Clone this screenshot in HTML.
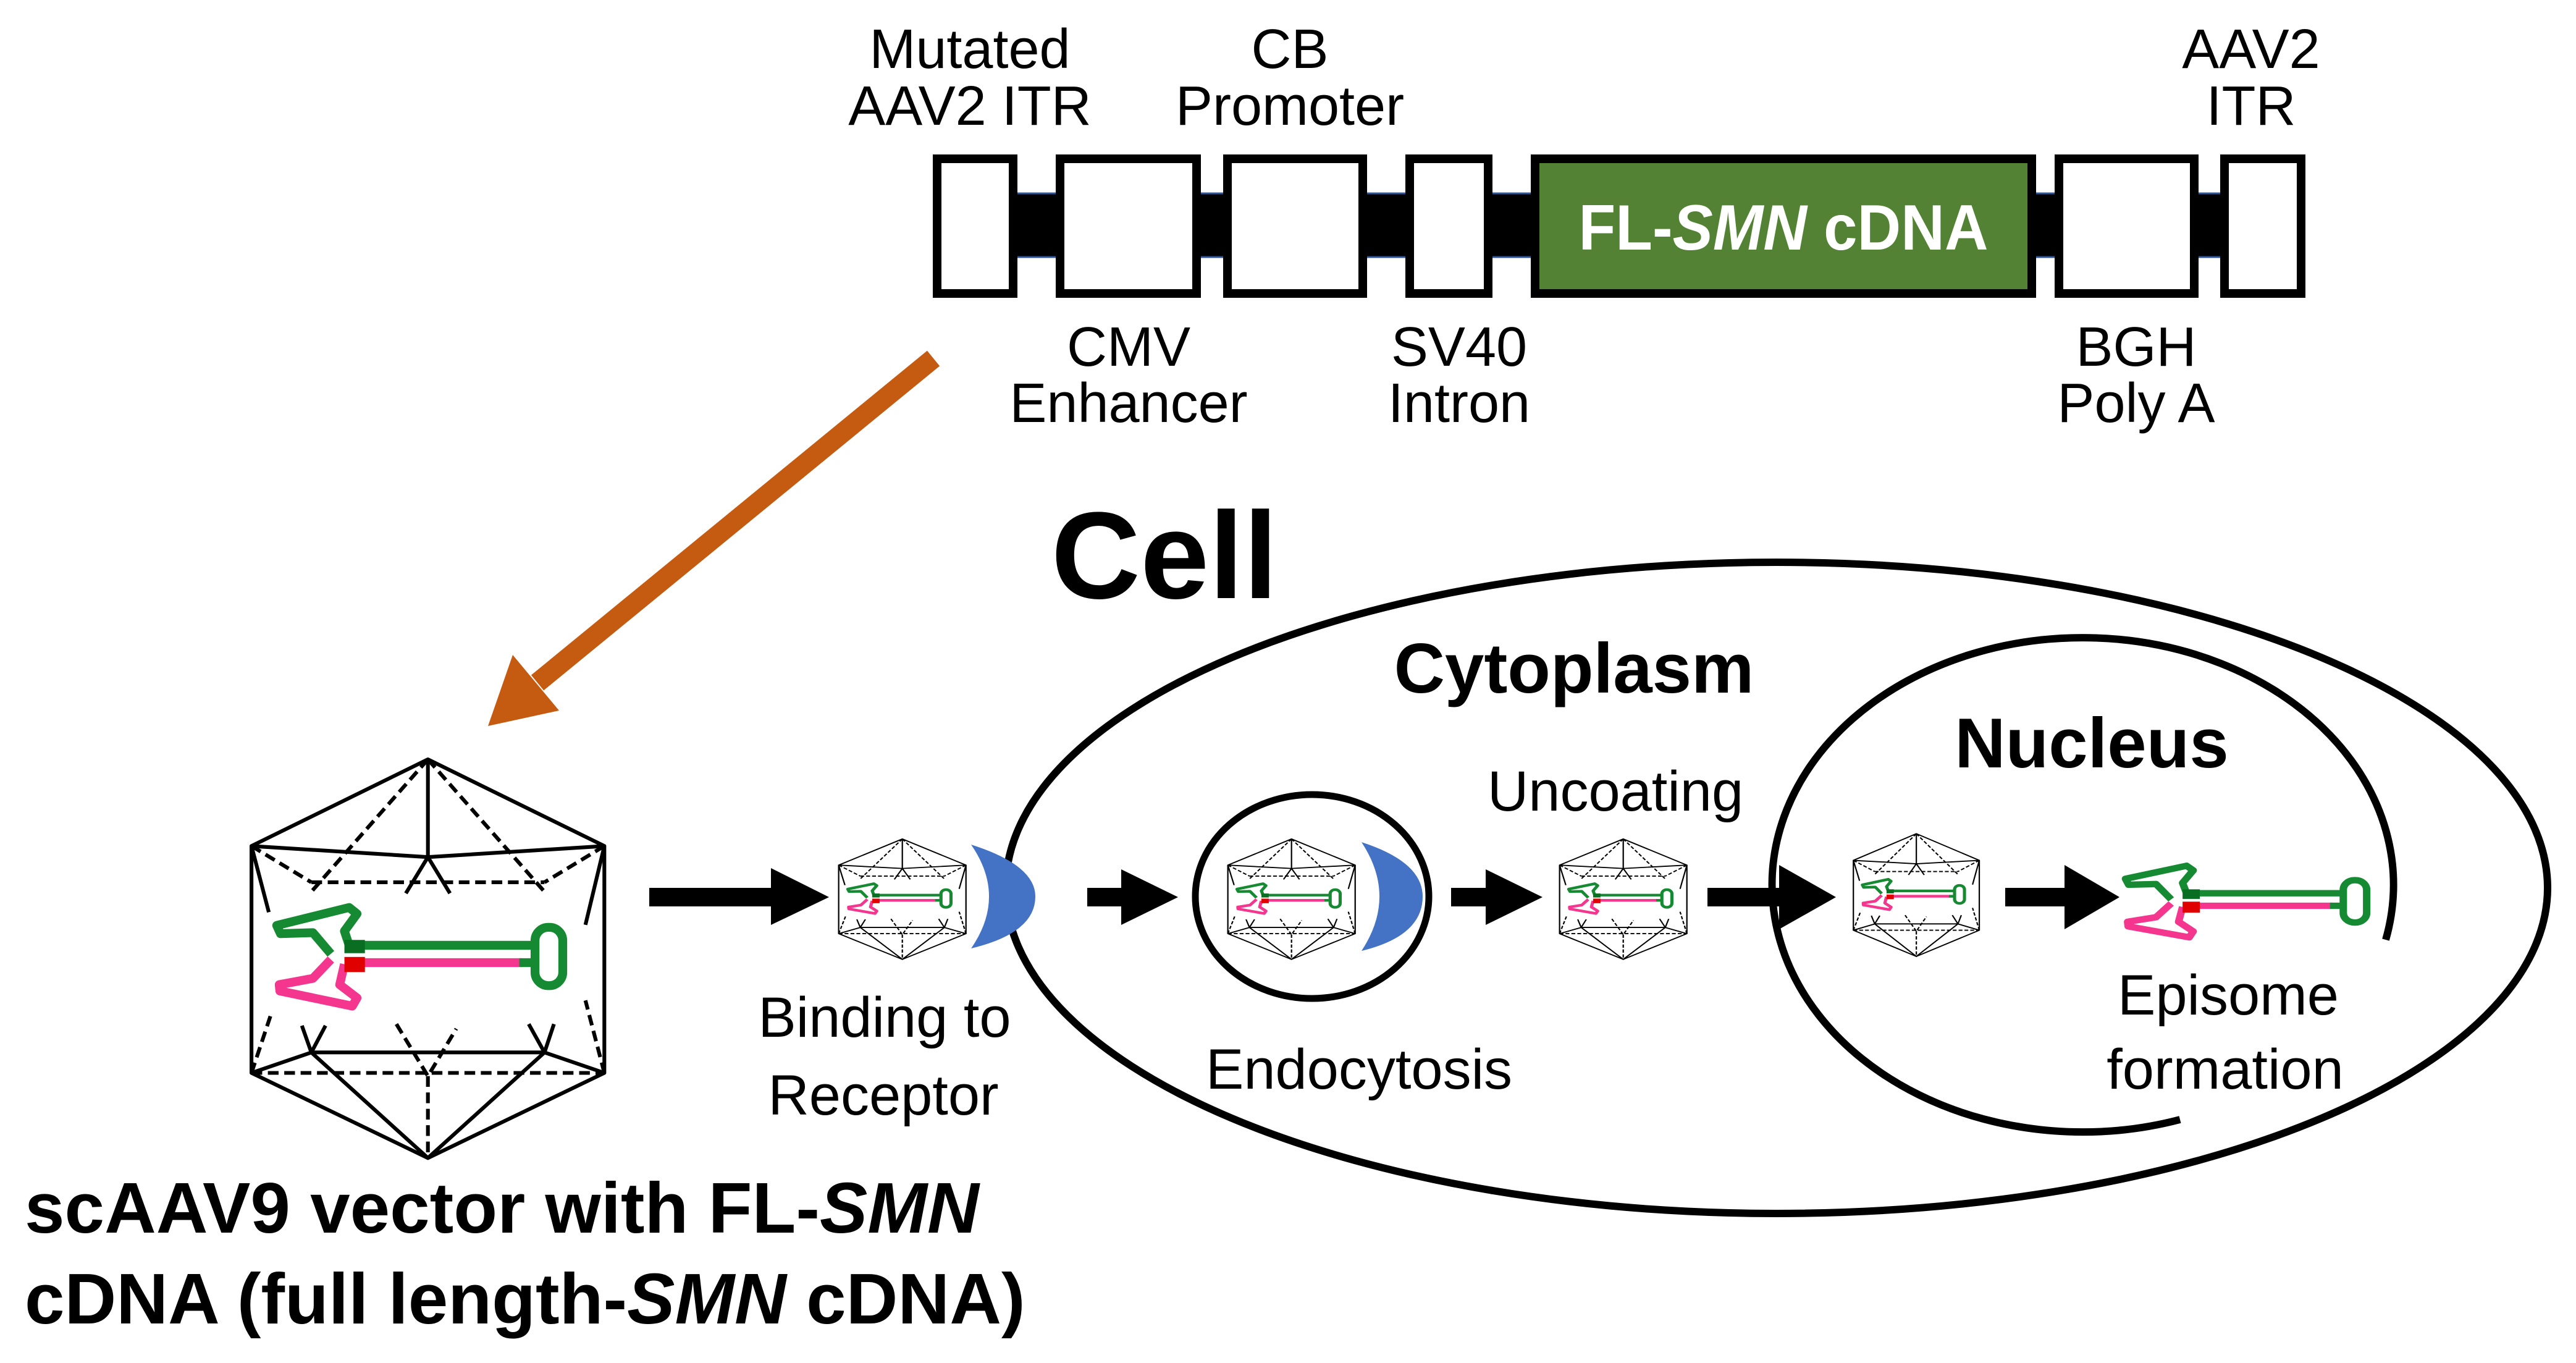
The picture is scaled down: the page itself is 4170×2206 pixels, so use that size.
<!DOCTYPE html>
<html><head><meta charset="utf-8"><style>
html,body{margin:0;padding:0;background:#fff}
svg{display:block}
text{font-family:"Liberation Sans",Arial,sans-serif}
</style></head><body>
<svg width="4170" height="2206" viewBox="0 0 4170 2206" xmlns="http://www.w3.org/2000/svg">
<defs>
<g id="dna">
  <line x1="510" y1="745" x2="1110" y2="745" stroke="#168a32" stroke-width="28"/>
  <line x1="510" y1="800" x2="1070" y2="800" stroke="#f4368e" stroke-width="28"/>
  <line x1="1060" y1="800" x2="1115" y2="800" stroke="#168a32" stroke-width="28"/>
  <rect x="1110" y="688" width="88" height="185" rx="42" fill="none" stroke="#168a32" stroke-width="28"/>
  <path d="M462,772 L405,705 L302,708 L290,682 L520,625 L545,645 L505,700 L520,745" fill="none" stroke="#168a32" stroke-width="28" stroke-linejoin="round"/>
  <path d="M462,790 L405,850 L298,870 L300,890 L530,938 L545,912 L490,870 L505,805" fill="none" stroke="#f4368e" stroke-width="28" stroke-linejoin="round"/>
  <rect x="505" y="728" width="65" height="42" fill="#0a6e22" stroke="none"/>
  <rect x="505" y="782" width="65" height="48" fill="#e00000" stroke="none"/>
</g>
<g id="capsid" fill="none" stroke="#000" stroke-width="12" stroke-linejoin="round">
  <polygon points="770,155 1330,430 1330,1150 770,1420 210,1150 210,430"/>
  <polyline points="210,430 770,465 1330,430"/>
  <line x1="770" y1="155" x2="770" y2="465"/>
  <polyline points="700,580 770,465 840,580"/>
  <path d="M210,430 L265,640 M1330,430 L1270,680"/>
  <g stroke-dasharray="34,18">
    <line x1="770" y1="155" x2="400" y2="575"/>
    <line x1="770" y1="155" x2="1140" y2="575"/>
    <line x1="210" y1="430" x2="400" y2="545"/>
    <line x1="1330" y1="430" x2="1140" y2="545"/>
    <line x1="400" y1="545" x2="1140" y2="545"/>
    <line x1="210" y1="1150" x2="1330" y2="1150"/>
    <line x1="770" y1="1160" x2="770" y2="1420"/>
    <polyline points="670,995 770,1160 860,1010"/>
    <line x1="210" y1="1150" x2="270" y2="970"/>
    <line x1="1330" y1="1150" x2="1270" y2="920"/>
  </g>
  <line x1="400" y1="1085" x2="1140" y2="1085"/>
  <polyline points="210,1150 400,1085 770,1420 1140,1085 1330,1150"/>
  <polyline points="370,1000 400,1085 445,1000"/>
  <polyline points="1090,995 1140,1085 1170,995"/>
  <use href="#dna"/>
</g>
</defs>

<rect x="1510" y="312" width="2222" height="105" fill="#000"/>
<line x1="1510" y1="313" x2="3732" y2="313" stroke="#2f5597" stroke-width="3"/>
<line x1="1510" y1="416" x2="3732" y2="416" stroke="#2f5597" stroke-width="3"/>
<g stroke="#000" stroke-width="14" fill="#fff">
  <rect x="1517" y="257" width="123" height="218"/>
  <rect x="1716" y="257" width="221" height="218"/>
  <rect x="1987" y="257" width="219" height="218"/>
  <rect x="2282" y="257" width="127" height="218"/>
  <rect x="2485" y="257" width="804" height="218" fill="#548235"/>
  <rect x="3333" y="257" width="219" height="218"/>
  <rect x="3601" y="257" width="124" height="218"/>
</g>
<text x="2887" y="404" fill="#fff" font-weight="bold" font-size="104" text-anchor="middle" textLength="663" lengthAdjust="spacingAndGlyphs">FL-<tspan font-style="italic">SMN</tspan> cDNA</text>

<g font-size="90" text-anchor="middle" fill="#000">
  <text x="1570" y="110">Mutated</text>
  <text x="1570" y="202">AAV2 ITR</text>
  <text x="2088" y="110">CB</text>
  <text x="2088" y="202">Promoter</text>
  <text x="3644" y="110">AAV2</text>
  <text x="3644" y="202">ITR</text>
  <text x="1827" y="592">CMV</text>
  <text x="1827" y="683">Enhancer</text>
  <text x="2362" y="592">SV40</text>
  <text x="2362" y="683">Intron</text>
  <text x="3458" y="592">BGH</text>
  <text x="3458" y="683">Poly A</text>
</g>

<line x1="1511" y1="580" x2="870" y2="1105" stroke="#c55a11" stroke-width="32"/>
<polygon points="790,1175 830,1060 905,1150" fill="#c55a11"/>

<use href="#capsid" transform="translate(300,1150) scale(0.51)"/>

<text x="1885" y="968" font-size="200" font-weight="bold" text-anchor="middle">Cell</text>
<ellipse cx="2876" cy="1437" rx="1248" ry="527" fill="none" stroke="#000" stroke-width="12"/>
<text x="2548" y="1121" font-size="114" font-weight="bold" text-anchor="middle">Cytoplasm</text>
<path d="M3529,1812 A503,400 0 1 1 3862,1521" fill="none" stroke="#000" stroke-width="12"/>
<text x="3386" y="1242" font-size="114" font-weight="bold" text-anchor="middle">Nucleus</text>
<ellipse cx="2124" cy="1451" rx="189" ry="165" fill="none" stroke="#000" stroke-width="11"/>

<path d="M1572,1367 Q1676,1400 1676,1451 Q1676,1510 1572,1535 Q1630,1451 1572,1367 Z" fill="#4472c4"/>
<path d="M2204,1363 Q2303,1395 2303,1451 Q2303,1515 2204,1539 Q2262,1451 2204,1363 Z" fill="#4472c4"/>

<use href="#capsid" transform="translate(1319,1334) scale(0.184,0.154)"/>
<use href="#capsid" transform="translate(1949,1334) scale(0.184,0.154)"/>
<use href="#capsid" transform="translate(2486,1334) scale(0.184,0.154)"/>
<use href="#capsid" transform="translate(2962,1325) scale(0.182,0.157)"/>

<use href="#dna" transform="translate(3316,1170) scale(0.43,0.37)"/>

<g fill="#000">
  <rect x="1051" y="1437" width="200" height="30"/><polygon points="1248,1405 1342,1452 1248,1497"/>
  <rect x="1760" y="1437" width="60" height="30"/><polygon points="1815,1407 1907,1452 1815,1497"/>
  <rect x="2349" y="1437" width="60" height="30"/><polygon points="2405,1407 2497,1452 2405,1497"/>
  <rect x="2764" y="1437" width="120" height="30"/><polygon points="2880,1400 2972,1452 2880,1504"/>
  <rect x="3246" y="1437" width="100" height="30"/><polygon points="3342,1400 3431,1452 3342,1504"/>
</g>

<g font-size="92" text-anchor="middle">
  <text x="1432" y="1678">Binding to</text>
  <text x="1430" y="1804">Receptor</text>
  <text x="2200" y="1762">Endocytosis</text>
  <text x="2615" y="1312">Uncoating</text>
  <text x="3607" y="1642">Episome</text>
  <text x="3602" y="1762">formation</text>
</g>

<g font-size="116" font-weight="bold">
  <text x="40" y="1995">scAAV9 vector with FL-<tspan font-style="italic">SMN</tspan></text>
  <text x="40" y="2142">cDNA (full length-<tspan font-style="italic">SMN</tspan> cDNA)</text>
</g>
</svg>
</body></html>
